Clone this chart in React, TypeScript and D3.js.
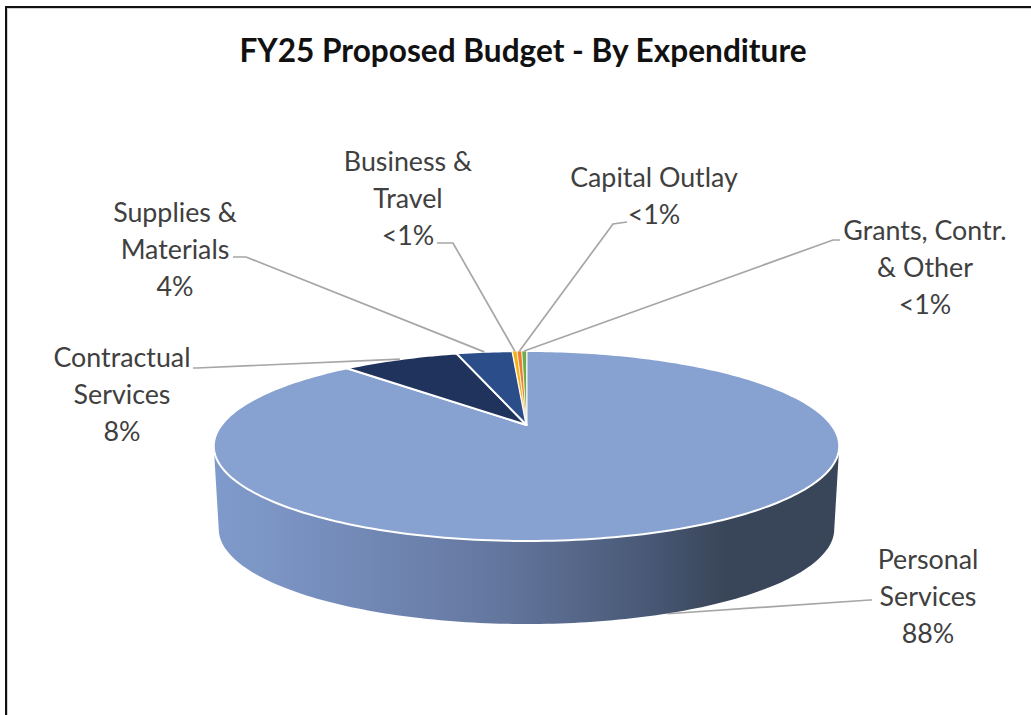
import * as d3 from "d3";

const categories = [
  "Personal Services",
  "Contractual Services",
  "Supplies & Materials",
  "Business & Travel",
  "Capital Outlay",
  "Grants, Contr. & Other",
];
const shares = [88.1, 7.5, 3.6, 0.3, 0.3, 0.3];
const shareLabels = ["88%", "8%", "4%", "<1%", "<1%", "<1%"];
const sliceColors = ["#87a2d1", "#1f335c", "#2b4d8a", "#f4b217", "#ed7d31", "#70ad47"];
const labelLines = [
  ["Personal", "Services"],
  ["Contractual", "Services"],
  ["Supplies &", "Materials"],
  ["Business &", "Travel"],
  ["Capital Outlay"],
  ["Grants, Contr.", "& Other"],
];

// where each label sits and where its leader bends
const labelPos = [
  { x: 928, y: 569, elbow: [870, 600], end: [872, 600] },
  { x: 122, y: 367, elbow: [197, 368], end: [193, 368] },
  { x: 175, y: 222, elbow: [246, 257], end: [233, 257] },
  { x: 408, y: 171, elbow: [453, 243], end: [437, 243] },
  { x: 654, y: 187, elbow: [613, 224], end: [627, 222] },
  { x: 925, y: 240, elbow: [833, 240], end: [840, 240] },
];

const width = 1031;
const height = 715;
const cx = 526.5;
const apexY = 425;
const backY = 351;
const frontY = 541;
const depth = 83;
const fontFamily = "Lato, Carlito, sans-serif";

// perspective of the tilted disc: the apex sits above the middle of the ellipse
const tilt = -(frontY + backY - 2 * apexY) / (frontY - backY);
const yGain = frontY * (1 + tilt) - apexY;
const xGain = 305;

function project(angle: number, r = 1): [number, number] {
  const u = r * Math.sin(angle);
  const v = -r * Math.cos(angle);
  const w = 1 + tilt * v;
  return [cx + (xGain * u) / w, (yGain * v + apexY) / w];
}

function slicePath(start: number, end: number) {
  const steps = Math.max(2, Math.ceil((end - start) / 0.02));
  const pts: [number, number][] = [[cx, apexY]];
  d3.range(steps + 1).forEach((i) => {
    pts.push(project(start + ((end - start) * i) / steps));
  });
  return d3.line()(pts) + "Z";
}

// front wall: the rim from its right extreme round to the left one, dropped by depth
function wallPath() {
  const rim = d3.range(0, 361).map((i) => project((i * Math.PI) / 180));
  const xs = rim.map((p) => p[0]);
  const iRight = xs.indexOf(d3.max(xs)!);
  const iLeft = xs.indexOf(d3.min(xs)!);
  const front = rim.slice(iRight, iLeft + 1);
  const inset = 5;
  const dropped = front.map(([x, y]): [number, number] => [
    cx + ((x - cx) * (xGain * 1.025 - inset)) / (xGain * 1.025),
    y + depth,
  ]);
  return d3.line()([...front, ...dropped.reverse()]) + "Z";
}

export default function App() {
  const arcs = d3
    .pie<number>()
    .sort(null)
    .startAngle(0)
    .endAngle(2 * Math.PI)(shares);

  const wallStops = [
    { at: 0, color: "#7f9bcb" },
    { at: 0.1, color: "#7b94c4" },
    { at: 0.45, color: "#64779f" },
    { at: 0.68, color: "#4a5a78" },
    { at: 0.82, color: "#394558" },
    { at: 1, color: "#394558" },
  ];

  return (
    <svg
      width={width}
      height={height}
      style={{ position: "absolute", left: 0, top: 0, background: "#fff" }}
    >
      <defs>
        <linearGradient id="wall" gradientUnits="userSpaceOnUse" x1={214} x2={839} y1={0} y2={0}>
          {wallStops.map((s) => (
            <stop key={s.at} offset={s.at} stopColor={s.color} />
          ))}
        </linearGradient>
      </defs>

      {/* frame */}
      <path d={`M7.5,${height}V8.5H${width}`} fill="none" stroke="#d0d0d0" strokeWidth={1} />
      <path d={`M6,${height}V7H${width}`} fill="none" stroke="#111" strokeWidth={2} />

      <text
        x={523}
        y={62}
        textAnchor="middle"
        fontFamily={fontFamily}
        fontWeight={700}
        fontSize={31.6}
        fill="#111"
      >
        FY25 Proposed Budget - By Expenditure
      </text>

      <path d={wallPath()} fill="url(#wall)" />

      {arcs.map((a, i) => (
        <path
          key={categories[i]}
          d={slicePath(a.startAngle, a.endAngle)}
          fill={sliceColors[i]}
          stroke="#fff"
          strokeWidth={i > 2 ? 0.7 : 2}
          strokeLinejoin="round"
        />
      ))}

      {/* leaders */}
      {arcs.map((a, i) => {
        const mid = (a.startAngle + a.endAngle) / 2;
        let start = project(mid);
        if (i === 0) start = [start[0], start[1] + depth];
        const pos = labelPos[i];
        return (
          <polyline
            key={categories[i]}
            points={[start, pos.elbow, pos.end].map((p) => p.join(",")).join(" ")}
            fill="none"
            stroke="#a6a6a6"
            strokeWidth={1.7}
          />
        );
      })}

      {/* labels */}
      {categories.map((c, i) => {
        const pos = labelPos[i];
        return (
          <text
            key={c}
            textAnchor="middle"
            fontFamily={fontFamily}
            fontSize={26.8}
            fill="#404040"
          >
            {[...labelLines[i], shareLabels[i]].map((line, j) => (
              <tspan key={j} x={pos.x} y={pos.y + j * 37}>
                {line}
              </tspan>
            ))}
          </text>
        );
      })}
    </svg>
  );
}
